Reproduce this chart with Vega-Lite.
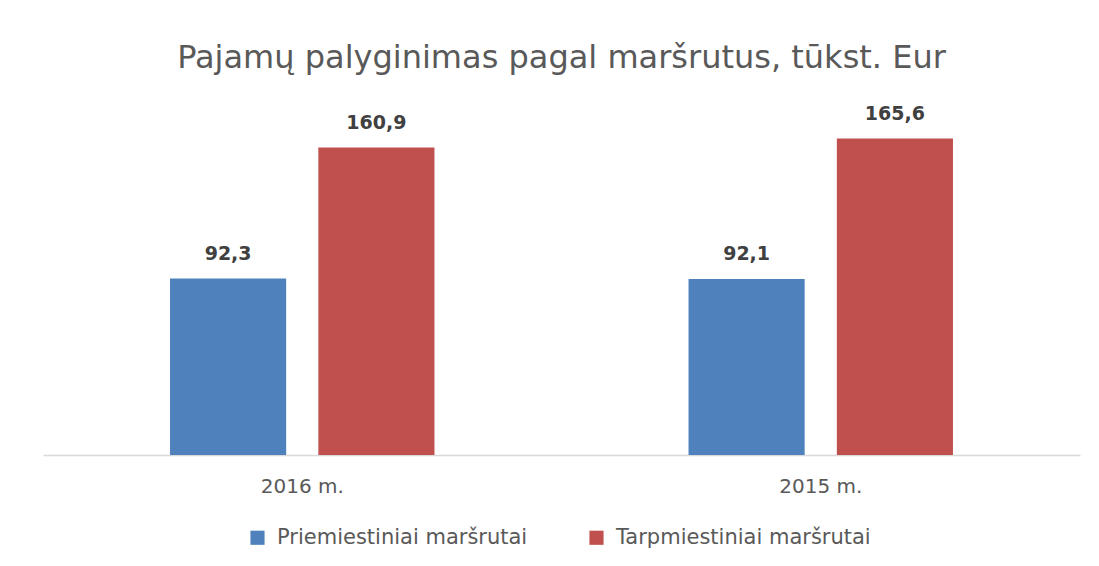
{
  "$schema": "https://vega.github.io/schema/vega-lite/v6.json",
  "width": 1037,
  "height": 344,
  "autosize": {"type": "none"},
  "padding": {"left": 43, "top": 111, "right": 19, "bottom": 111},
  "background": "white",
  "config": {
    "view": {"stroke": null},
    "locale": {"number": {"decimal": ",", "thousands": " ", "grouping": [3], "currency": ["", " €"]}},
    "font": "DejaVu Sans"
  },
  "title": {
    "text": "Pajamų palyginimas pagal maršrutus, tūkst. Eur",
    "fontSize": 32,
    "font": "DejaVu Sans",
    "fontWeight": "normal",
    "color": "#595959",
    "anchor": "middle",
    "offset": 30
  },
  "data": {
    "values": [
      {"metai": "2016 m.", "tipas": "Priemiestiniai maršrutai", "pajamos": 92.3},
      {"metai": "2016 m.", "tipas": "Tarpmiestiniai maršrutai", "pajamos": 160.9},
      {"metai": "2015 m.", "tipas": "Priemiestiniai maršrutai", "pajamos": 92.1},
      {"metai": "2015 m.", "tipas": "Tarpmiestiniai maršrutai", "pajamos": 165.6}
    ]
  },
  "encoding": {
    "x": {
      "field": "metai",
      "type": "nominal",
      "sort": ["2016 m.", "2015 m."],
      "scale": {"paddingInner": 0.49, "paddingOuter": 0.245},
      "axis": {
        "title": null,
        "labelAngle": 0,
        "ticks": false,
        "domainColor": "#d9d9d9",
        "domainWidth": 1.5,
        "labelFontSize": 20,
        "labelColor": "#595959",
        "labelPadding": 21,
        "labelFont": "DejaVu Sans"
      }
    },
    "xOffset": {
      "field": "tipas",
      "type": "nominal",
      "scale": {"paddingInner": 0.217, "paddingOuter": 0}
    },
    "y": {
      "field": "pajamos",
      "type": "quantitative",
      "scale": {"domain": [0, 180]},
      "axis": null
    }
  },
  "layer": [
    {
      "mark": {"type": "bar"},
      "encoding": {
        "color": {
          "field": "tipas",
          "type": "nominal",
          "scale": {"domain": ["Priemiestiniai maršrutai", "Tarpmiestiniai maršrutai"], "range": ["#4F81BD", "#C0504D"]},
          "legend": {
            "title": null,
            "orient": "none",
            "legendX": 204,
            "legendY": 416,
            "direction": "horizontal",
            "symbolType": "square",
            "symbolSize": 200,
            "symbolStrokeWidth": 0,
            "symbolOpacity": 1,
            "labelFontSize": 21,
            "labelLimit": 500,
            "labelColor": "#595959",
            "labelFont": "DejaVu Sans",
            "columnPadding": 58,
            "labelOffset": 9
          }
        }
      }
    },
    {
      "mark": {"type": "text", "dy": -25, "fontSize": 19, "fontWeight": "bold", "color": "#404040", "font": "DejaVu Sans"},
      "encoding": {
        "text": {"field": "pajamos", "type": "quantitative", "format": ".1f"}
      }
    }
  ]
}
